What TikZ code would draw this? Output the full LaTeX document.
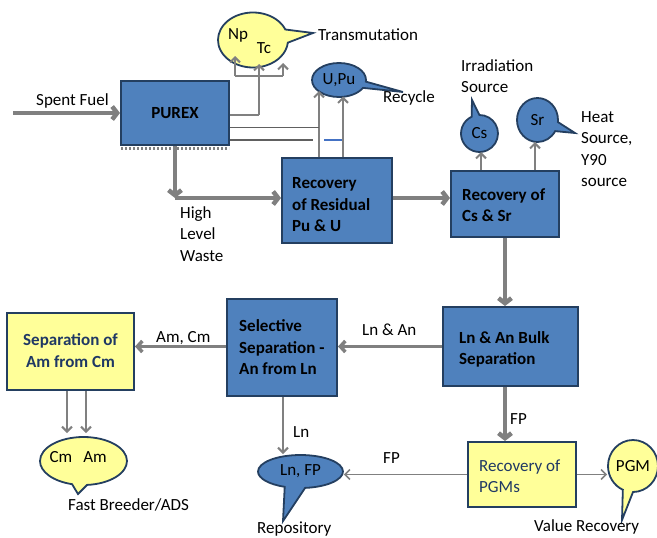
\documentclass[tikz,border=0pt]{standalone}
\usepackage{fontspec}
\setmainfont{Carlito}
\usetikzlibrary{arrows.meta,shapes.callouts,calc}
\definecolor{boxblue}{HTML}{4F81BD}
\definecolor{navy}{HTML}{243F60}
\definecolor{lightyel}{HTML}{FFFF99}
\definecolor{arrgray}{HTML}{808080}
\definecolor{dgray}{HTML}{606060}
\definecolor{txtnavy}{HTML}{1F3864}
\definecolor{lineblue}{HTML}{4472C4}
\begin{document}
\begin{tikzpicture}[x=1pt,y=-1pt,
  every node/.style={font=\fontsize{17}{21.5}\selectfont, inner sep=0pt},
  bbox/.style={draw=navy, line width=2pt, fill=boxblue},
  ybox/.style={draw=navy, line width=2pt, fill=lightyel},
  btxt/.style={font=\fontsize{17}{21.5}\selectfont\bfseries, align=left, anchor=west},
  ytxt/.style={text=txtnavy, align=left, anchor=west},
  lbl/.style={anchor=base west},
  bcall/.style={ellipse callout, draw=navy, line width=1.8pt, fill=boxblue},
  ycall/.style={ellipse callout, draw=navy, line width=1.8pt, fill=lightyel},
  thk/.style={draw=arrgray, line width=4.5pt, -{Straight Barb[length=5pt,width=13pt]}},
  mid/.style={draw=arrgray, line width=3.5pt, -{Straight Barb[length=5pt,width=11pt]}},
  thn/.style={draw=arrgray, line width=2pt, -{Straight Barb[length=5pt,width=10pt]}},
  hair/.style={draw=arrgray, line width=1.5pt, -{Straight Barb[length=5pt,width=10pt]}},
  plain/.style={draw=dgray, line width=1.3pt},
]
\useasboundingbox (0,0) rectangle (657,538);

% ---------- boxes ----------
\node[bbox, minimum width=108pt, minimum height=64pt] (purex) at (175,113) {};
\node[btxt, anchor=center] (purext) at (purex.center) {PUREX};
\draw[draw=gray, line width=3pt, dash pattern=on 2pt off 2pt] (121,148.5) -- (229,148.5);

\node[bbox, minimum width=110pt, minimum height=85pt] (resid) at (337,200.5) {};
\node[btxt] (residt) at ($(resid.west)+(11,4.5)$) {Recovery\\of Residual\\Pu \& U};

\node[bbox, minimum width=108pt, minimum height=66pt] (cssr) at (505,204) {};
\node[btxt] (cssrt) at ($(cssr.west)+(12,1)$) {Recovery of\\Cs \& Sr};

\node[bbox, minimum width=135pt, minimum height=79pt] (lnan) at (510.5,346.5) {};
\node[btxt] (lnant) at ($(lnan.west)+(17,3)$) {Ln \& An Bulk\\Separation};

\node[bbox, minimum width=110pt, minimum height=97pt] (selsep) at (282,347.5) {};
\node[btxt] (selsept) at ($(selsep.west)+(13,0)$) {Selective\\Separation -\\An from Ln};

\node[ybox, minimum width=127pt, minimum height=77pt] (amcm) at (70.5,351.5) {};
\node[ytxt, font=\fontsize{17}{21.5}\selectfont\bfseries, align=center, anchor=center] (amcmt) at (70.5,350.5) {Separation of\\Am from Cm};

\node[ybox, minimum width=108pt, minimum height=65pt] (pgms) at (522,474.5) {};
\node[ytxt] (pgmst) at ($(pgms.west)+(12,1.5)$) {Recovery of\\PGMs};

% ---------- callouts ----------
\node[ycall, minimum width=70pt, minimum height=55pt, callout pointer arc=28,
      callout absolute pointer={(313,33)}] (nptc) at (253,40) {};
\node (np) at (238,35) {Np};
\node (tc) at (264,48) {Tc};

\node[bcall, minimum width=54pt, minimum height=34pt, callout pointer arc=22,
      callout absolute pointer={(403,92)}] (upu) at (339,80) {U,Pu};

\node[bcall, minimum width=37pt, minimum height=37pt, callout pointer arc=25,
      callout absolute pointer={(472,100)}] (cs) at (479.5,133.5) {Cs};
\node[bcall, minimum width=41pt, minimum height=44pt, callout pointer arc=25,
      callout absolute pointer={(575,133)}] (sr) at (537.5,120) {Sr};

\node[ycall, minimum width=87pt, minimum height=48pt, callout pointer arc=20,
      callout absolute pointer={(78,494)}] (cmam) at (83.5,461) {};
\node (cmt) at (61,457) {Cm};
\node (amt) at (95,457) {Am};

\node[bcall, minimum width=85pt, minimum height=33pt, callout pointer arc=28,
      callout absolute pointer={(283,521)}] (lnfp) at (300.5,471.5) {Ln, FP};

\node[ycall, minimum width=50pt, minimum height=52pt, callout pointer arc=24,
      callout absolute pointer={(622,520)}] (pgm) at (633,466) {PGM};

% ---------- coordinates ----------
\coordinate (sf) at (13,113);
\coordinate (hlw) at (175,198);
\coordinate (j1) at (259,115);
\coordinate (h1) at (235,76);
\coordinate (h2) at (283,76);
\coordinate (nptip) at (235,56);
\coordinate (tctip) at (259,64);
\coordinate (t3tip) at (283,63);
\coordinate (pl1) at (319,127.5);
\coordinate (pl2) at (313,140);
\coordinate (bl1) at (324,140);
\coordinate (bl2) at (342,140);
\coordinate (up1) at (319,91);
\coordinate (up2) at (343,96.5);
\coordinate (cstip) at (481,152);
\coordinate (srtip) at (535,142);
\coordinate (cmtip) at (67,433);
\coordinate (amtip) at (86,433);
\coordinate (lntip) at (283,454);

% ---------- connectors ----------
\draw[thk] (sf) -- (purex.west);
\draw[thk] (purex.south) -- (hlw);
\draw[thk] (hlw) -- (hlw -| resid.west);
\draw[thk] (resid.east |- hlw) -- (cssr.west |- hlw);
\draw[thk] (cssr.south) -- (cssr.south |- lnan.north);
\draw[thk] (lnan.south -| cssr.south) -- (cssr.south |- pgms.north);
\draw[mid] (lnan.west) -- (lnan.west -| selsep.east);
\draw[mid] (selsep.west |- lnan.west) -- (amcm.east |- lnan.west);
\draw[thn] (amcm.south -| cmtip) -- (cmtip);
\draw[thn] (amcm.south -| amtip) -- (amtip);
\draw[thn] (selsep.south -| lntip) -- (lntip);
\draw[hair] (pgms.west) -- (pgms.west -| lnfp.east);
\draw[hair] (pgms.east) -- (pgms.east -| pgm.west);
\draw[thn] (cssr.north -| cstip) -- (cstip);
\draw[thn] (cssr.north -| srtip) -- (srtip);
\draw[thn] (resid.north -| up1) -- (up1);
\draw[thn] (resid.north -| up2) -- (up2);
\draw[plain] (purex.east |- pl1) -- (pl1);
\draw[plain] (purex.east |- pl2) -- (pl2);
\draw[draw=lineblue, line width=1.3pt] (bl1) -- (bl2);
\draw[thn, -] (purex.east |- j1) -- (j1);
\draw[thn] (j1) -- (tctip);
\draw[thn, -] (h1) -- (h2);
\draw[thn] (h1) -- (nptip);
\draw[thn] (h2) -- (t3tip);

% ---------- labels ----------
\node[lbl] (l1) at (36,105) {Spent Fuel};
\node[lbl] (l2) at (318,40) {Transmutation};
\node[lbl] (l3) at (383,102) {Recycle};
\node[lbl, align=left, anchor=north west] (l4) at (461,59) {Irradiation\\Source};
\node[lbl, align=left, anchor=north west] (l5) at (581,111) {Heat\\Source,\\Y90\\source};
\node[lbl, align=left, anchor=north west] (l6) at (180,206) {High\\Level\\Waste};
\node[lbl] (l7) at (362,335) {Ln \& An};
\node[lbl] (l8) at (156,342) {Am, Cm};
\node[lbl] (l9) at (68,510) {Fast Breeder/ADS};
\node[lbl] (l10) at (293,437) {Ln};
\node[lbl] (l11) at (383,463) {FP};
\node[lbl] (l12) at (510,424) {FP};
\node[lbl] (l13) at (257,533) {Repository};
\node[lbl] (l14) at (534,531) {Value Recovery};
\end{tikzpicture}
\end{document}
